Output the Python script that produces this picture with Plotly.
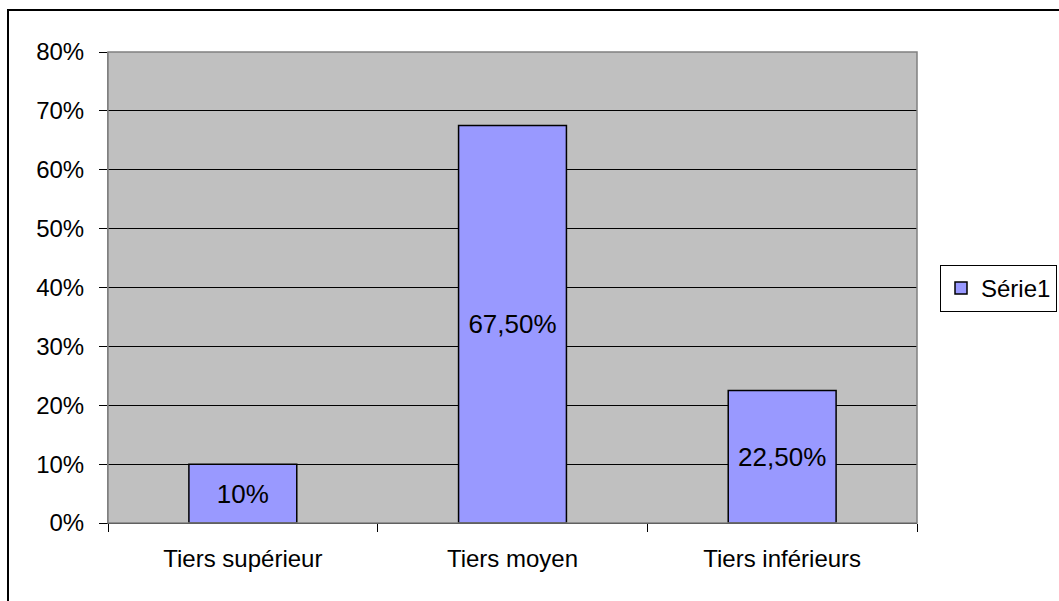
import plotly.graph_objects as go

categories = ["Tiers supérieur", "Tiers moyen", "Tiers inférieurs"]
values = [0.10, 0.675, 0.225]
value_labels = ["10%", "67,50%", "22,50%"]
tick_vals = [0, 0.1, 0.2, 0.3, 0.4, 0.5, 0.6, 0.7, 0.8]
tick_text = ["0%", "10%", "20%", "30%", "40%", "50%", "60%", "70%", "80%"]
series_name = "Série1"

FONT = "Liberation Sans, Arial, sans-serif"

fig = go.Figure()
fig.add_trace(go.Bar(
    x=categories, y=values, name=series_name,
    text=value_labels, textposition="inside", insidetextanchor="middle",
    textfont=dict(size=26, color="black", family=FONT),
    marker=dict(color="#9999FF", line=dict(color="black", width=1.5)),
    showlegend=True,
))

W, H = 1059, 601
L, R, T, B = 108, 142, 52, 78
pw, ph = W - L - R, H - T - B

def px_x(x):
    return (x - L) / pw

def px_y(y):
    return 1 - (y - T) / ph

fig.update_layout(
    width=W, height=H,
    margin=dict(l=L, r=R, t=T, b=B, pad=0, autoexpand=False),
    paper_bgcolor="white", plot_bgcolor="#C0C0C0",
    font=dict(family=FONT, size=24, color="black"),
    bargap=0.6,
    showlegend=True,
    legend=dict(
        x=px_x(940), y=px_y(265), xanchor="left", yanchor="top",
        bordercolor="black", borderwidth=1, bgcolor="white",
        font=dict(size=24, family=FONT),
        itemwidth=30,
    ),
    xaxis=dict(
        showgrid=False, showline=True, linecolor="black", linewidth=1,
        ticks="outside", tickson="boundaries", ticklen=8, tickcolor="black",
        tickfont=dict(size=24), zeroline=False, ticklabelstandoff=14,
    ),
    yaxis=dict(
        range=[0, 0.8], tickvals=tick_vals, ticktext=tick_text,
        showgrid=True, gridcolor="black", gridwidth=1,
        showline=True, linecolor="#808080", linewidth=1,
        ticks="outside", ticklen=8, tickcolor="black",
        tickfont=dict(size=24), zeroline=False, ticklabelstandoff=10,
    ),
)

# plot area border (gray) and outer chart border (black)
fig.add_shape(type="rect", xref="paper", yref="paper", x0=0, y0=0, x1=1, y1=1,
              line=dict(color="#808080", width=1.5), layer="above")
fig.add_shape(type="rect", xref="paper", yref="paper",
              x0=px_x(8), y0=px_y(620), x1=px_x(1080), y1=px_y(10),
              line=dict(color="black", width=2))

fig.write_html("out.html", config={"displayModeBar": False},
               post_script="document.body.style.margin='0';")
